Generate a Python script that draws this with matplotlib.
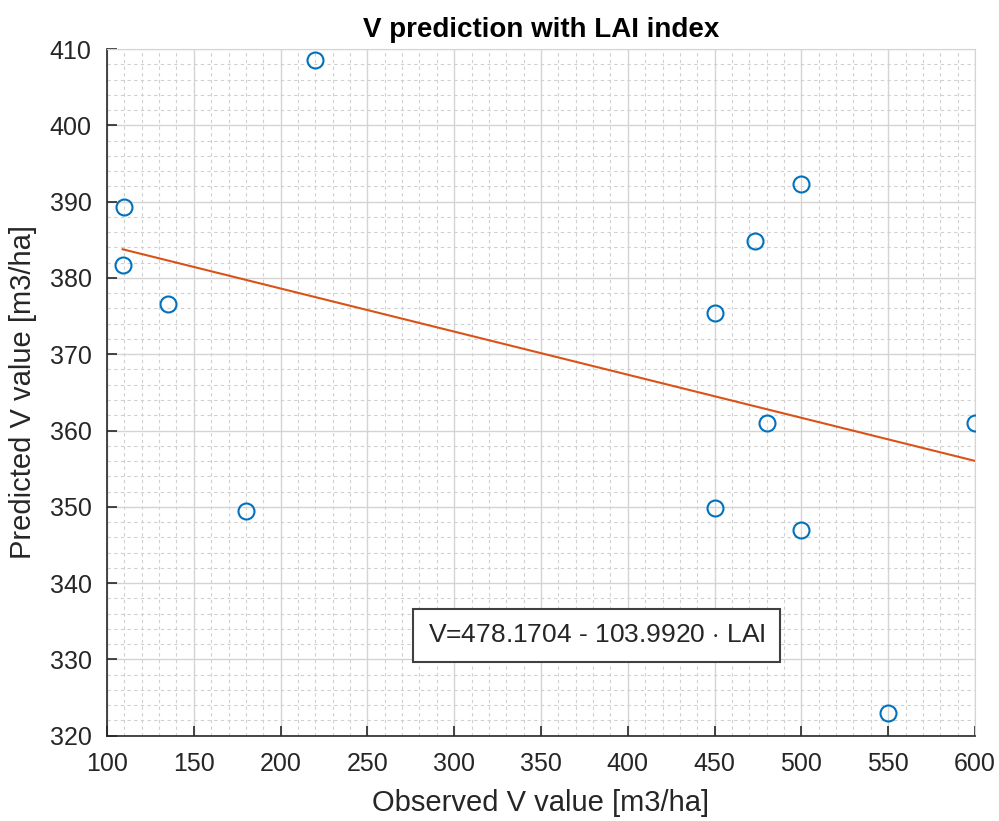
import matplotlib

matplotlib.use("Agg")
import matplotlib.pyplot as plt
import numpy as np
from matplotlib.ticker import MultipleLocator

# observed vs predicted V [m3/ha]
observed = [220, 110, 109, 135, 180, 500, 473, 450, 480, 600, 450, 500, 550]
predicted = [408.6, 389.3, 381.7, 376.6, 349.5, 392.3, 384.8, 375.4, 361.0, 361.0, 349.9, 347.0, 323.0]
equation = "V=478.1704 - 103.9920 $\\cdot$ LAI"

plt.rcParams["font.family"] = ["Liberation Sans", "DejaVu Sans"]
plt.rcParams["mathtext.fontset"] = "custom"
plt.rcParams["mathtext.rm"] = "Liberation Sans"

fig = plt.figure(figsize=(9.99, 8.21), dpi=100)
ax = fig.add_axes([0.1071, 0.1039, 0.8689, 0.8364])

# linear fit line between min and max observed
coef = np.polyfit(observed, predicted, 1)
xfit = np.array([min(observed), max(observed)])
ax.plot(xfit, np.polyval(coef, xfit), color="#D95319", lw=1.5, zorder=3)
ax.plot(observed, predicted, "o", mfc="none", mec="#0072BD", ms=11.5, mew=1.5, zorder=4)

ax.set_xlim(100, 600)
ax.set_ylim(320, 410)
ax.xaxis.set_major_locator(MultipleLocator(50))
ax.xaxis.set_minor_locator(MultipleLocator(10))
ax.yaxis.set_major_locator(MultipleLocator(10))
ax.yaxis.set_minor_locator(MultipleLocator(2))

ax.grid(True, which="major", color="#d4d4d4", lw=1.0)
ax.grid(True, which="minor", color="#d0d0d0", lw=0.8, ls=(0, (3, 3)))
ax.set_axisbelow(True)

for s in ["top", "right"]:
    ax.spines[s].set_color("#d4d4d4")
for s in ["left", "bottom"]:
    ax.spines[s].set_color("#262626")
    ax.spines[s].set_linewidth(1.2)

ax.tick_params(which="both", direction="in", colors="#262626", labelsize=18, top=False, right=False)
ax.tick_params(which="major", length=7, width=1.2)
ax.tick_params(axis="x", which="major", pad=12)
ax.tick_params(axis="y", which="major", pad=11)
ax.tick_params(which="minor", length=0)

ax.set_xlabel("Observed V value [m3/ha]", fontsize=21, color="#262626", labelpad=9)
ax.set_ylabel("Predicted V value [m3/ha]", fontsize=21, color="#262626", labelpad=9)
ax.set_title("V prediction with LAI index", fontsize=20, fontweight="bold", pad=9)

fig.text(0.597, 0.2262, equation, ha="center", va="center", fontsize=19, color="#262626",
         bbox=dict(boxstyle="square,pad=0.55", fc="white", ec="#404040", lw=1.5))

plt.savefig("out.png")
plt.close()
